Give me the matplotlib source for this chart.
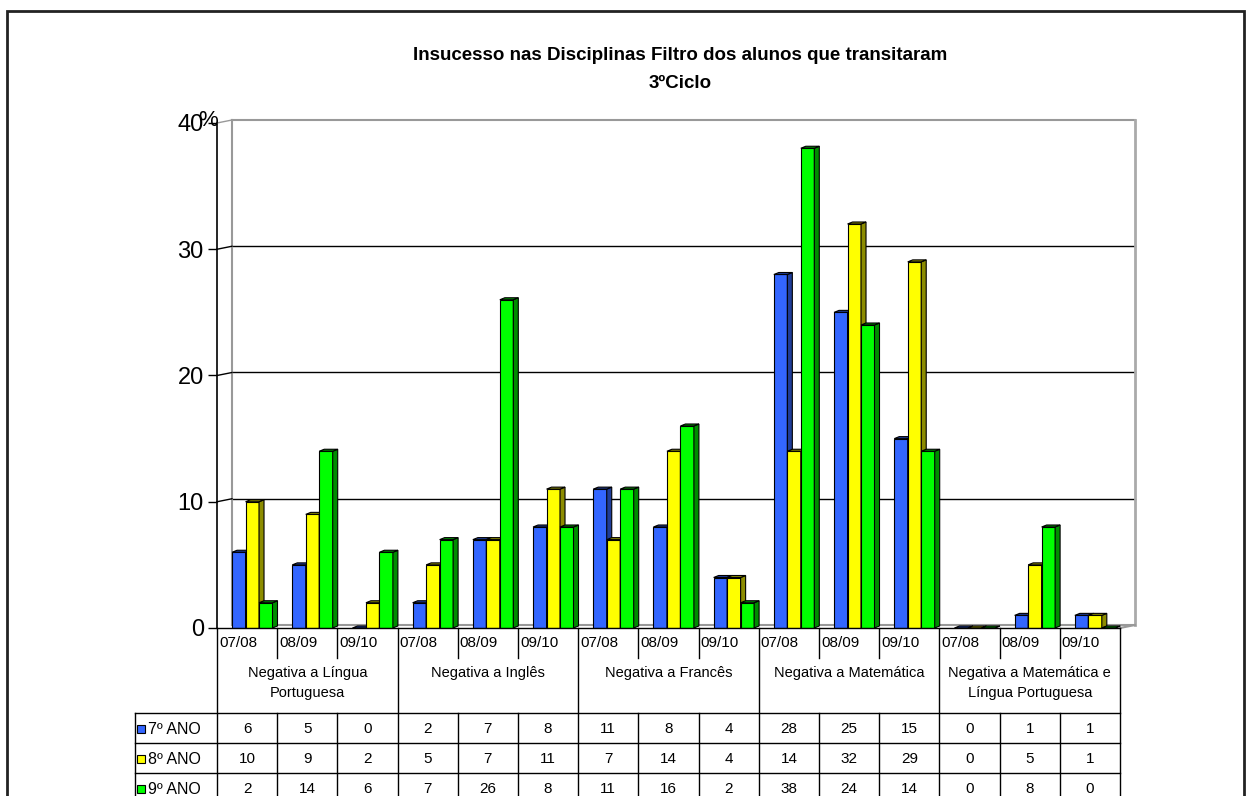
import matplotlib
matplotlib.use('Agg')
import matplotlib.pyplot as plt
from matplotlib.patches import Polygon, Rectangle
from matplotlib.lines import Line2D
from matplotlib.transforms import ScaledTranslation
import numpy as np

plt.rcParams['font.family'] = ['Liberation Sans', 'DejaVu Sans']

years = ['07/08', '08/09', '09/10']
groups = ['Negativa a Língua\nPortuguesa', 'Negativa a Inglês', 'Negativa a Francês',
          'Negativa a Matemática', 'Negativa a Matemática e\nLíngua Portuguesa']
series = ['7º ANO', '8º ANO', '9º ANO']
ano7 = [6, 5, 0, 2, 7, 8, 11, 8, 4, 28, 25, 15, 0, 1, 1]
ano8 = [10, 9, 2, 5, 7, 11, 7, 14, 4, 14, 32, 29, 0, 5, 1]
ano9 = [2, 14, 6, 7, 26, 8, 11, 16, 2, 38, 24, 14, 0, 8, 0]
yticks = [0, 10, 20, 30, 40]

colors = ['#3366FF', '#FFFF00', '#00FF00']
sides = ['#1F3D99', '#8C8C00', '#008C00']

W, H = 1251, 796
fig = plt.figure(figsize=(W / 100, H / 100), dpi=100)
ax = fig.add_axes([217 / W, 1 - 628 / H, (1120 - 217) / W, (628 - 123) / H])
ax.set_xlim(0, 15)
ax.set_ylim(0, 40)
for s in ['top', 'right', 'bottom']:
    ax.spines[s].set_visible(False)
ax.spines['left'].set_linewidth(1.2)
ax.set_xticks([])
ax.set_yticks(yticks)
ax.set_yticklabels([str(v) for v in yticks], fontsize=17)
ax.tick_params(axis='y', length=6.5, width=1, pad=3)
ax.patch.set_visible(False)

# back wall, shifted up/right
back = ax.transData + ScaledTranslation(15 / 100, 3 / 100, fig.dpi_scale_trans)
for v in yticks[1:-1]:
    ax.plot([0, 15], [v, v], transform=back, color='black', lw=1, clip_on=False, zorder=1)
ax.plot([0, 15], [40, 40], transform=back, color='#999999', lw=1.5, clip_on=False, zorder=1)
ax.plot([0, 15], [0, 0], transform=back, color='#999999', lw=1.5, clip_on=False, zorder=1)
ax.plot([0, 0], [0, 40], transform=back, color='#999999', lw=1.5, clip_on=False, zorder=1)
ax.plot([15, 15], [0, 40], transform=back, color='#aaaaaa', lw=2, clip_on=False, zorder=1)

inv = fig.transFigure.inverted()
for v in yticks[1:]:
    p0 = ax.transData.transform((0, v))
    a = inv.transform(p0)
    b = inv.transform(p0 + np.array([15, 3]))
    fig.add_artist(Line2D([a[0], b[0]], [a[1], b[1]], color='black' if v < 40 else '#999999', lw=1))
p0 = ax.transData.transform((15, 0))
a = inv.transform(p0)
b = inv.transform(p0 + np.array([15, 3]))
fig.add_artist(Line2D([a[0], b[0]], [a[1], b[1]], color='#999999', lw=1.5))

# bars with a small 3D side and top
bw = 0.224
x0 = 0.25
dx, dy = 5 / 60.2, 2 / 12.6
xs = np.arange(len(ano7))
for k, vals in enumerate([ano7, ano8, ano9]):
    left = xs + x0 + k * bw
    ax.bar(left, vals, bw, align='edge', color=colors[k], edgecolor='black', lw=0.8, zorder=3 + k)
    for xl, v in zip(left, vals):
        xr = xl + bw
        ax.add_patch(Polygon([(xr, 0), (xr + dx, dy), (xr + dx, v + dy), (xr, v)],
                             fc=sides[k], ec='black', lw=0.8, zorder=3 + k, clip_on=False))
        ax.add_patch(Polygon([(xl, v), (xl + dx, v + dy), (xr + dx, v + dy), (xr, v)],
                             fc=sides[k], ec='black', lw=0.8, zorder=3 + k, clip_on=False))

# "%" over the top tick label
fig.text(208 / W, 1 - 121 / H, '%', fontsize=16, ha='center', va='center')

# title
fig.text(680 / W, 1 - 56 / H, 'Insucesso nas Disciplinas Filtro dos alunos que transitaram',
         fontsize=13.5, weight='bold', ha='center', va='center')
fig.text(680 / W, 1 - 83 / H, '3ºCiclo', fontsize=13.5, weight='bold', ha='center', va='center')

# outer chart border
fig.add_artist(Rectangle((7 / W, -0.05), (1244 - 7) / W, 1.05 - 11 / H, transform=fig.transFigure,
                         fill=False, ec='#222222', lw=2))


# data table
def colx(k):
    return ax.transData.transform((k, 0))[0] / W


def fy(py):
    return 1 - py / H


def line(xa, xb, ya, yb):
    fig.add_artist(Line2D([xa, xb], [ya, yb], color='black', lw=1))


ncol = len(ano7)
line(colx(0), colx(ncol), fy(628), fy(628))
for k in range(ncol + 1):
    if k % 3 == 0:
        line(colx(k), colx(k), fy(628), fy(800))
    else:
        line(colx(k), colx(k), fy(628), fy(658))
        line(colx(k), colx(k), fy(713), fy(800))
for py in [713, 743, 773]:
    line(135 / W, colx(ncol), fy(py), fy(py))
line(135 / W, 135 / W, fy(713), fy(800))

for k in range(ncol):
    fig.text(colx(k) + 2 / W, fy(643), years[k % 3], fontsize=11, ha='left', va='center')
for g, name in enumerate(groups):
    fig.text((colx(3 * g) + colx(3 * g + 3)) / 2, fy(666), name, fontsize=10.5,
             ha='center', va='top', linespacing=1.55)

for r, vals in enumerate([ano7, ano8, ano9]):
    yc = fy(729 + 30 * r)
    fig.add_artist(Rectangle((137 / W, yc - 4 / H), 8 / W, 8 / H, transform=fig.transFigure,
                             fc=colors[r], ec='black', lw=0.8))
    fig.text(148 / W, yc, series[r], fontsize=11.5, ha='left', va='center')
    for k, v in enumerate(vals):
        fig.text((colx(k) + colx(k + 1)) / 2, yc, str(v), fontsize=11, ha='center', va='center')

fig.savefig('out.png', dpi=100)
